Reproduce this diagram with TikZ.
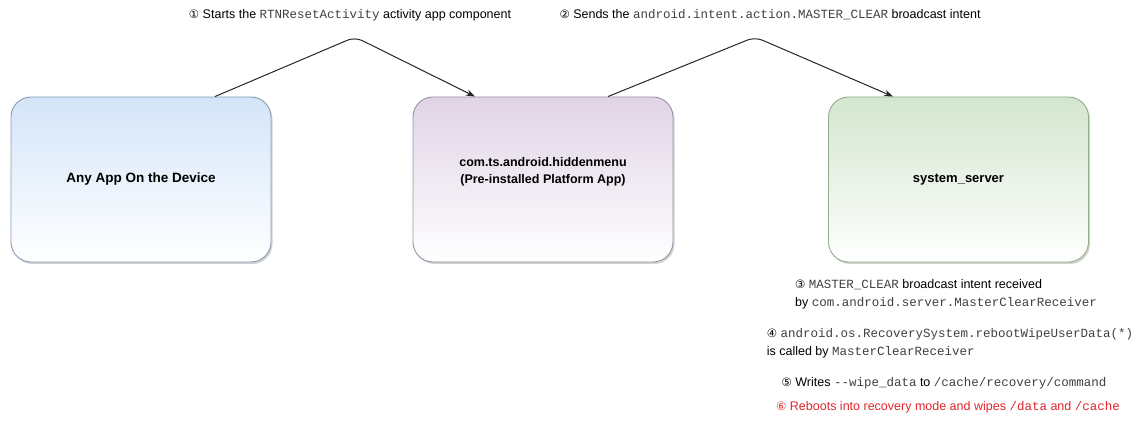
\documentclass[tikz,border=0pt]{standalone}
\usepackage{fontspec}
\setmainfont{Liberation Sans}
\setmonofont{Liberation Mono}
\newfontfamily\symf{DejaVu Sans}
\usetikzlibrary{shadows,arrows.meta}
\definecolor{bluetop}{HTML}{D4E5F9}
\definecolor{bluedraw}{HTML}{8A9BB0}
\definecolor{purptop}{HTML}{E0D3E6}
\definecolor{purpdraw}{HTML}{9E8EA6}
\definecolor{greentop}{HTML}{D3E6CF}
\definecolor{greendraw}{HTML}{93AD8A}
\definecolor{redtxt}{HTML}{E0262B}
\newcommand{\cn}[1]{{\symf\fontsize{11.5}{12}\selectfont #1}}
\newcommand{\mono}[1]{{\ttfamily\fontsize{12.5}{13}\selectfont\color{black!75}#1}}
\begin{document}
\begin{tikzpicture}[x=1pt,y=-1pt,
  box/.style={rounded corners=20pt, minimum width=260pt, minimum height=165pt, draw, line width=0.9pt,
    font=\fontsize{13.5}{16}\selectfont\bfseries, align=center,
    drop shadow={opacity=0.35, shadow xshift=1.5pt, shadow yshift=-2pt}},
  boxtext/.style={font=\fontsize{12.5}{17}\selectfont\bfseries, align=center, inner sep=0pt},
  lbl/.style={font=\fontsize{12.5}{18}\selectfont, inner sep=0pt, align=left},
  arr/.style={-{Stealth[length=9pt,width=6.5pt]}, line width=1pt, rounded corners=8pt, draw=black!85}]
\useasboundingbox (0,0) rectangle (1148,427);

\node[box, top color=bluetop, bottom color=white, draw=bluedraw] (b1) at (141,179.5) {Any App On the Device};
\node[box, top color=purptop, bottom color=white, draw=purpdraw] (b2) at (543,179.5) {};
\node[boxtext] (b2t) at (543,171.5) {com.ts.android.hiddenmenu\\(Pre-installed Platform App)};
\node[box, top color=greentop, bottom color=white, draw=greendraw, font=\fontsize{13}{16}\selectfont\bfseries] (b3) at (958.5,179.5) {system\_server};

\coordinate (p1) at (355,37);
\coordinate (p2) at (755,37);
\draw[arr] ([xshift=74pt]b1.north) -- (p1) -- ([xshift=-68pt]b2.north);
\draw[arr] ([xshift=65pt]b2.north) -- (p2) -- ([xshift=-65.5pt]b3.north);

\node[lbl] (l1) at (350,15) {\cn{①} Starts the \mono{RTNResetActivity} activity app component};
\node[lbl] (l2) at (770,15) {\cn{②} Sends the \mono{android.intent.action.MASTER\_CLEAR} broadcast intent};

\node[lbl] (l3) at (946,294) {\cn{③} \mono{MASTER\_CLEAR} broadcast intent received\\by \mono{com.android.server.MasterClearReceiver}};
\node[lbl] (l4) at (950,343) {\cn{④} \mono{android.os.RecoverySystem.rebootWipeUserData(*)}\\is called by \mono{MasterClearReceiver}};
\node[lbl] (l5) at (944,383) {\cn{⑤} Writes \mono{-{}-wipe\_data} to \mono{/cache/recovery/command}};
\node[lbl, text=redtxt] (l6) at (948,407) {\cn{⑥} Reboots into recovery mode and wipes {\ttfamily\fontsize{12.5}{13}\selectfont/data} and {\ttfamily\fontsize{12.5}{13}\selectfont/cache}};
\end{tikzpicture}
\end{document}
